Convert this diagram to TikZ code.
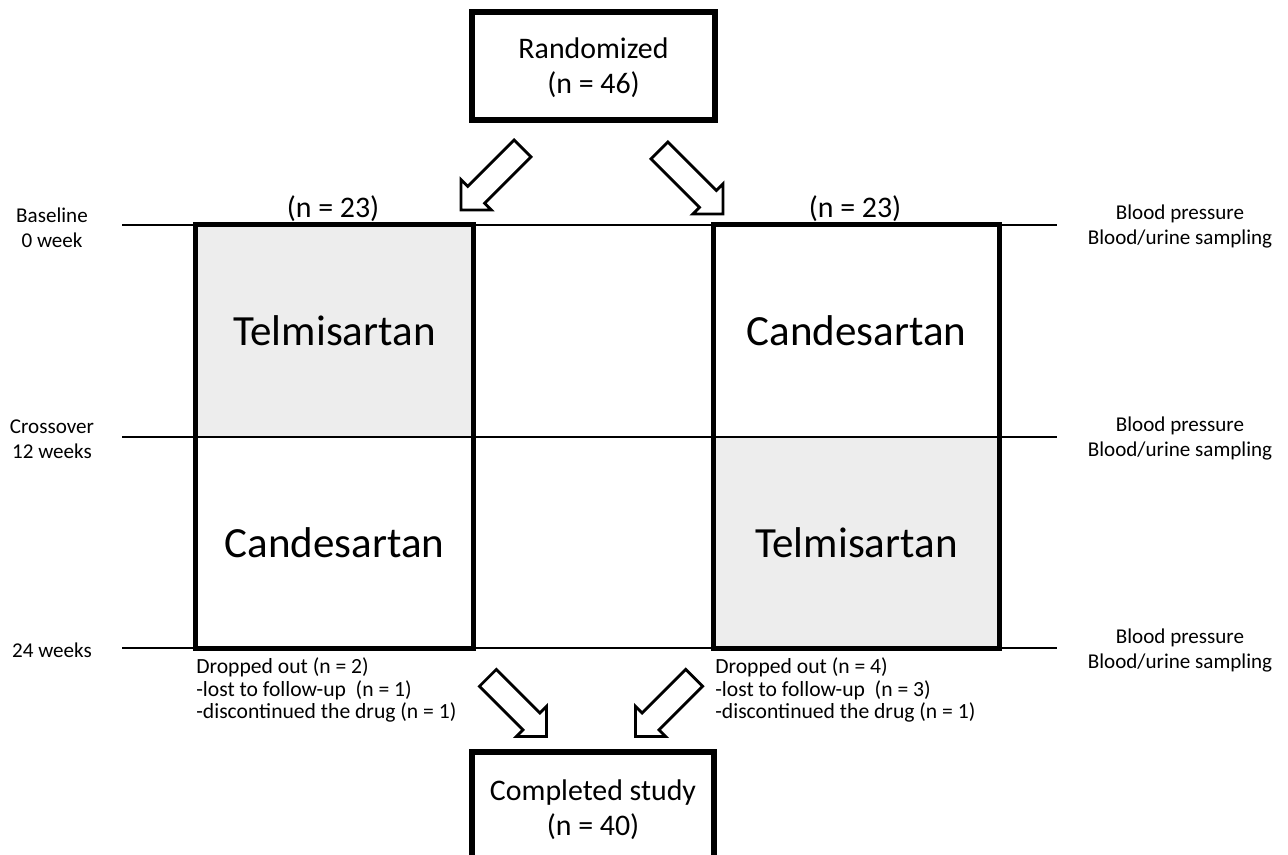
\documentclass[tikz,border=0pt]{standalone}
\usepackage{fontspec}
\setmainfont{Carlito}
\usetikzlibrary{shapes.arrows}
\definecolor{shade}{HTML}{EDEDED}

\begin{document}
\begin{tikzpicture}[x=0.02cm,y=-0.02cm,
  box/.style={draw, line width=3.2pt, inner sep=0pt, align=center, font=\fontsize{17}{20}\selectfont},
  drug/.style={minimum width=5.54cm, inner sep=0pt, font=\fontsize{24.5}{28}\selectfont},
  arm/.style={font=\fontsize{17}{20}\selectfont},
  note/.style={align=center, font=\fontsize{12}{14}\selectfont},
  drop/.style={align=left, anchor=north west, inner sep=0pt, font=\fontsize{12.3}{13}\selectfont},
  fat/.style={single arrow, draw, fill=white, line width=1.6pt, line join=miter, single arrow tip angle=90,
    single arrow head extend=0.19cm, minimum height=1.74cm, inner xsep=0pt, inner ysep=0.21cm}]
\useasboundingbox (0,0) rectangle (1288,855);

% shaded halves first, lines over them
\node [drug, minimum height=4.24cm, fill=shade] (t1) at (334.5,331) {Telmisartan};
\node [drug, minimum height=4.22cm] (c1) at (334.5,542.5) {Candesartan};
\node [drug, minimum width=5.7cm, minimum height=4.24cm] (c2) at (856.5,331) {Candesartan};
\node [drug, minimum width=5.7cm, minimum height=4.22cm, fill=shade] (t2) at (856.5,542.5) {Telmisartan};

\foreach \y/\n in {225/w0,437/w12,648/w24}
  \draw [line width=1.7pt] (122,\y) coordinate (\n l) -- (1057,\y) coordinate (\n r);
\draw [line width=2.8pt] (t1.north west) rectangle (c1.south east);
\draw [line width=2.8pt] (c2.north west) rectangle (t2.south east);

\node [box, minimum width=4.86cm, minimum height=2.16cm, text depth=-2pt] (rand) at (593.5,66) {Randomized\\(n = 46)};
\node [box, minimum width=4.84cm, minimum height=2.32cm] (done) at (593,810) {Completed study\\(n = 40)};

\node [arm] (n1) at (333,209) {(n = 23)};
\node [arm] (n2) at (855,209) {(n = 23)};

% time points and measurements
\node [note] (base) at (52,227.5) {Baseline\\0 week};
\node [note] (cross) at (52,439) {Crossover\\12 weeks};
\node [note] (end) at (52,650) {24 weeks};
\foreach \y/\n in {226.5/m0,438.5/m12,650.5/m24}
  \node [note] (\n) at (1180,\y) {Blood pressure\\Blood/urine sampling};

\node [drop] (d1) at (196,657) {Dropped out (n = 2)\\-lost to follow-up~ (n = 1)\\-discontinued the drug (n = 1)};
\node [drop] (d2) at (715,657) {Dropped out (n = 4)\\-lost to follow-up~ (n = 3)\\-discontinued the drug (n = 1)};

% block arrows
\node [fat, rotate=225] (a1) at (496,175) {};
\node [fat, rotate=-45, minimum height=1.8cm] (a2) at (687,178) {};
\node [fat, rotate=-45, minimum height=1.66cm] (a3) at (513,703) {};
\node [fat, rotate=225, minimum height=1.66cm] (a4) at (669,703) {};
\end{tikzpicture}
\end{document}
